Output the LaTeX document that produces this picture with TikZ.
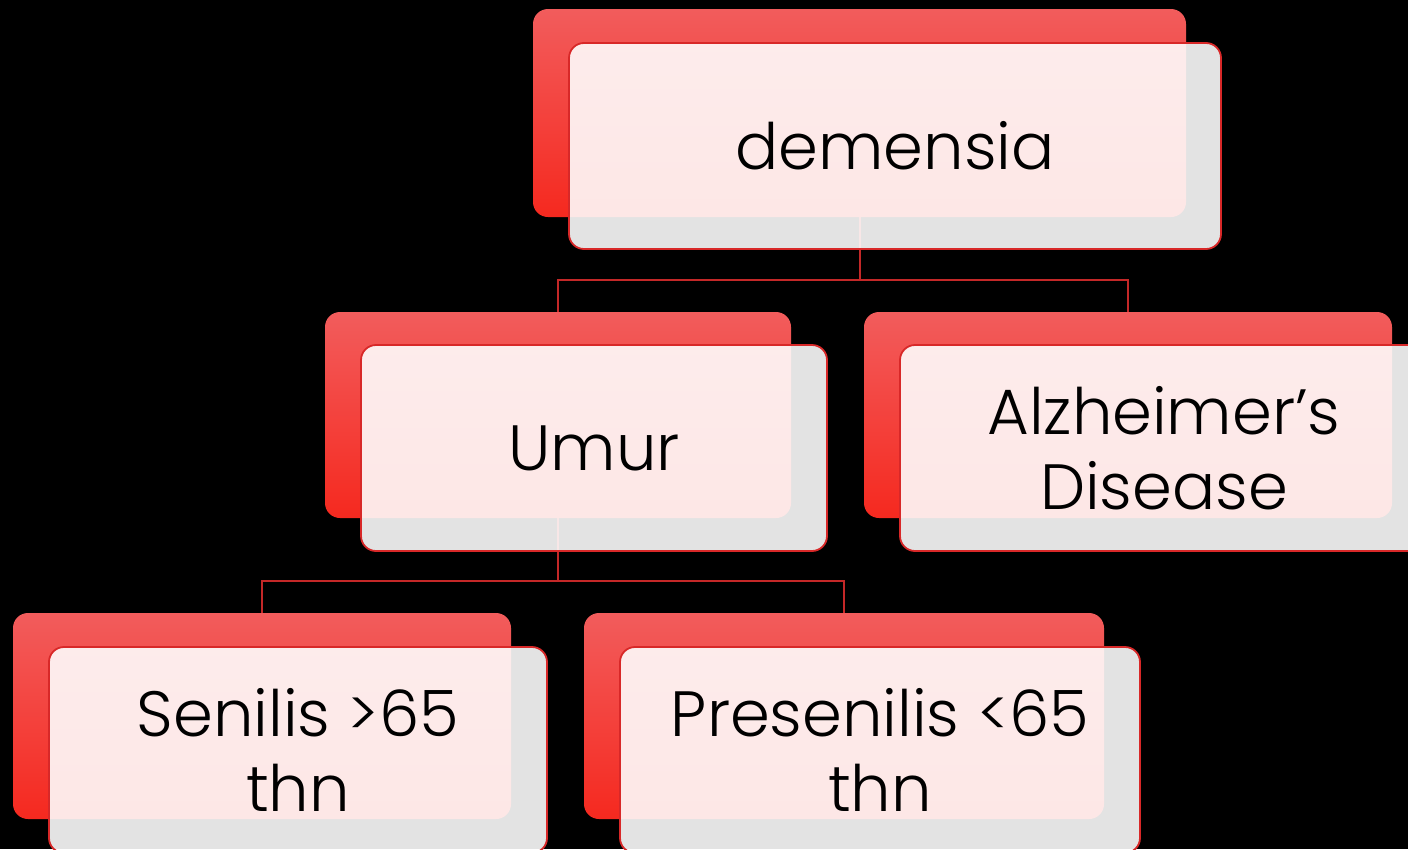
\documentclass[tikz,border=0pt]{standalone}
\usepackage{fontspec}
\setmainfont{Poppins}[UprightFont=* Light]
\definecolor{backtop}{HTML}{F25C5C}
\definecolor{backbot}{HTML}{F5291F}
\definecolor{frontline}{HTML}{D82828}
\definecolor{linkred}{HTML}{C42828}
\begin{document}
\begin{tikzpicture}[x=1pt,y=-1pt,
  backbox/.style={rectangle, rounded corners=15pt, inner sep=0pt, top color=backtop, bottom color=backbot, draw=none},
  frontbox/.style={rectangle, rounded corners=15pt, inner sep=0pt, fill=white, fill opacity=0.89, draw=frontline, draw opacity=1, line width=1.8pt, text opacity=1, text=black, align=center, font=\fontsize{64}{75}\selectfont},
  link/.style={draw=linkred, line width=2pt}]
\fill[black] (0,0) rectangle (1408,849);
\useasboundingbox (0,0) rectangle (1408,849);
\clip (0,0) rectangle (1408,849);
% back boxes
\node[backbox, minimum width=653pt, minimum height=208pt] (b1) at (859.5,113) {};
\node[backbox, minimum width=466pt, minimum height=206pt] (b2) at (558,415) {};
\node[backbox, minimum width=528pt, minimum height=206pt] (b3) at (1128,415) {};
\node[backbox, minimum width=498pt, minimum height=206pt] (b4) at (262,716) {};
\node[backbox, minimum width=520pt, minimum height=206pt] (b5) at (844,716) {};
% connectors
\coordinate (j1) at (859.5,280);
\coordinate (j2) at (558,581);
\draw[link] (b1.south) -- (j1) -| (b2.north);
\draw[link] (j1) -| (b3.north);
\draw[link] (b2.south) -- (j2) -| (b4.north);
\draw[link] (j2) -| (b5.north);
% front boxes
\node[frontbox, minimum width=652pt, minimum height=206pt] (f1) at (895,146) {demensia};
\node[frontbox, minimum width=466pt, minimum height=206pt] (f2) at (594,448) {Umur};
\node[frontbox, minimum width=528pt, minimum height=206pt] (f3) at (1164,448) {Alzheimer’s\\Disease};
\node[frontbox, minimum width=498pt, minimum height=206pt] (f4) at (298,750) {Senilis >65\\thn};
\node[frontbox, minimum width=520pt, minimum height=206pt] (f5) at (880,750) {Presenilis <65\\thn};
\end{tikzpicture}
\end{document}
